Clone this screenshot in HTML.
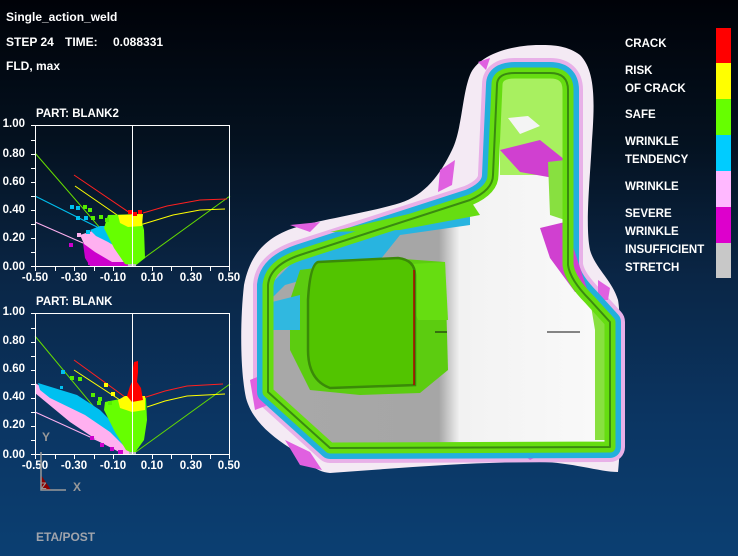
<!DOCTYPE html>
<html><head><meta charset="utf-8"><style>
html,body{margin:0;padding:0}
body{width:738px;height:556px;overflow:hidden;background:linear-gradient(180deg,#000208 0%,#04111f 25%,#0a2646 50%,#0b3562 75%,#0b3f72 100%);font-family:"Liberation Sans",sans-serif;}
svg{position:absolute;left:0;top:0}
text{font-family:"Liberation Sans",sans-serif;font-weight:bold;}
</style></head><body>
<svg width="738" height="556" viewBox="0 0 738 556">
<defs>
<linearGradient id="fill" x1="268" y1="0" x2="610" y2="0" gradientUnits="userSpaceOnUse">
<stop offset="0" stop-color="#a8a8a8"/><stop offset="0.5" stop-color="#a6a6a6"/><stop offset="0.56" stop-color="#f2f2f2"/><stop offset="1" stop-color="#fafafa"/>
</linearGradient>
</defs>
<g fill="#fff" font-size="12">
<text x="6" y="21">Single_action_weld</text>
<text x="6" y="46">STEP 24</text><text x="65" y="46">TIME:</text><text x="113" y="46">0.088331</text>
<text x="6" y="70">FLD, max</text>
</g>
<g fill="#fff" font-size="11.5">
<text x="625" y="47">CRACK</text>
<text x="625" y="74">RISK</text><text x="625" y="92">OF CRACK</text>
<text x="625" y="118">SAFE</text>
<text x="625" y="145">WRINKLE</text><text x="625" y="163">TENDENCY</text>
<text x="625" y="190">WRINKLE</text>
<text x="625" y="217">SEVERE</text><text x="625" y="235">WRINKLE</text>
<text x="625" y="253">INSUFFICIENT</text><text x="625" y="271">STRETCH</text>
</g>
<rect x="716" y="28" width="15" height="36" fill="#ff0000"/>
<rect x="716" y="63" width="15" height="36" fill="#ffff00"/>
<rect x="716" y="99" width="15" height="36" fill="#66ff00"/>
<rect x="716" y="135" width="15" height="36" fill="#00ccff"/>
<rect x="716" y="171" width="15" height="36" fill="#ffb8ff"/>
<rect x="716" y="207" width="15" height="36" fill="#dd00cc"/>
<rect x="716" y="243" width="15" height="35" fill="#c8c8c8"/>

<!-- part -->
<path d="M540,45 C510,45 478,55 470,75 C462,95 462,130 452,150 C440,175 425,195 400,203 C370,212 330,218 300,226 C265,236 250,255 244,285 C240,320 240,370 246,398 C252,420 270,435 290,448 C305,460 315,472 330,473 C400,468 470,462 540,462 C570,462 600,472 618,472 C622,440 622,320 618,300 C612,280 595,268 590,250 C585,225 590,180 592,140 C595,100 595,70 580,55 C568,46 555,45 540,45 Z" fill="#f4eaf4"/>
<path d="M497,85 Q497,73 515,73 L550,73 Q568,73 568,90 L568,265 Q570,280 590,300 L610,322 L610,447 L330,448 L268,392 L268,285 Q270,265 300,255 L470,200 Q493,190 493,175 Z" fill="none" stroke="#e8b0e8" stroke-width="30" stroke-linejoin="round"/>
<g fill="#e060e0">
<path d="M440,170 L455,160 L452,185 L438,192Z"/><path d="M250,380 L262,375 L268,405 L255,410Z"/>
<path d="M285,440 L310,452 L322,470 L300,465Z"/><path d="M520,452 L540,455 L530,460Z"/>
<path d="M598,280 L610,288 L608,300 L598,300Z"/><path d="M290,225 L320,222 L310,232Z"/>
<path d="M478,62 L490,58 L486,70Z"/>
</g>
<path d="M497,85 Q497,73 515,73 L550,73 Q568,73 568,90 L568,265 Q570,280 590,300 L610,322 L610,447 L330,448 L268,392 L268,285 Q270,265 300,255 L470,200 Q493,190 493,175 Z" fill="none" stroke="#22b0dc" stroke-width="22" stroke-linejoin="round"/>
<path d="M497,85 Q497,73 515,73 L550,73 Q568,73 568,90 L568,265 Q570,280 590,300 L610,322 L610,447 L330,448 L268,392 L268,285 Q270,265 300,255 L470,200 Q493,190 493,175 Z" fill="url(#fill)"/>
<path d="M500,86 Q500,76 515,76 L550,76 Q565,76 565,90 L565,175 L500,175Z" fill="#a8f060"/>
<path d="M508,118 L528,116 L540,126 L520,134Z" fill="#f4f4f4"/>
<path d="M500,150 L540,140 L565,160 L565,180 L520,172Z" fill="#d040d0"/>
<path d="M548,162 L565,160 L565,220 L550,215Z" fill="#88e040"/>
<path d="M540,228 L565,222 L588,292 L575,292 L550,258Z" fill="#d040d0"/>
<path d="M300,255 L470,200 L470,225 L400,235 L380,260 L320,275 L285,285 L270,300 L270,285 Z" fill="#28b4e0"/>
<path d="M330,232 L470,200 L480,215 L400,230Z" fill="#66dd11"/>
<path d="M300,270 L390,258 L445,262 L448,370 L420,393 L360,395 L310,390 L290,350 L290,300Z" fill="#5ccc10"/>
<path d="M395,265 L445,262 L448,320 L418,320Z" fill="#66dd11"/>
<path d="M318,262 L398,258 Q415,260 415,275 L415,385 L330,388 Q308,380 308,350 L308,300 Q310,265 318,262Z" fill="#52c400" stroke="#3a8a08" stroke-width="2.5"/>
<line x1="414" y1="270" x2="414" y2="385" stroke="#b00000" stroke-width="1.5"/>
<path d="M272,302 L300,295 L300,330 L272,330Z" fill="#30b8e0"/>
<path d="M590,300 L605,318 L605,440 L595,440 L595,330Z" fill="#88e040"/>
<path d="M497,85 Q497,73 515,73 L550,73 Q568,73 568,90 L568,265 Q570,280 590,300 L610,322 L610,447 L330,448 L268,392 L268,285 Q270,265 300,255 L470,200 Q493,190 493,175 Z" fill="none" stroke="#66dd11" stroke-width="11" stroke-linejoin="round"/>
<path d="M497,85 Q497,73 515,73 L550,73 Q568,73 568,90 L568,265 Q570,280 590,300 L610,322 L610,447 L330,448 L268,392 L268,285 Q270,265 300,255 L470,200 Q493,190 493,175 Z" fill="none" stroke="#3a8a10" stroke-width="2" stroke-linejoin="round"/>
<line x1="435" y1="332" x2="447" y2="332" stroke="#111" stroke-width="1"/>
<line x1="547" y1="332" x2="580" y2="332" stroke="#111" stroke-width="1"/>

<!-- axes -->
<g stroke="#fff" stroke-width="1">
<path d="M31,266.5h4M31,252.5h4M31,238.5h4M31,224.5h4M31,210.5h4M31,196.5h4M31,182.5h4M31,168.5h4M31,154.5h4M31,140.5h4M31,125.5h4"/>
<path d="M35.5,266v5M55.5,266v5M74.5,266v5M94.5,266v5M113.5,266v5M152.5,266v5M171.5,266v5M191.5,266v5M210.5,266v5M229.5,266v5"/>
<path d="M31,454.5h4M31,440.5h4M31,426.5h4M31,412.5h4M31,398.5h4M31,384.5h4M31,370.5h4M31,356.5h4M31,342.5h4M31,328.5h4M31,313.5h4"/>
<path d="M35.5,454v5M55.5,454v5M74.5,454v5M94.5,454v5M113.5,454v5M152.5,454v5M171.5,454v5M191.5,454v5M210.5,454v5M229.5,454v5"/>
</g>
<g fill="#fff" font-size="11.5">
<text x="36" y="117">PART: BLANK2</text>
<text x="36" y="305">PART: BLANK</text>
<g text-anchor="end">
<text x="25" y="127">1.00</text><text x="25" y="157">0.80</text><text x="25" y="185">0.60</text><text x="25" y="213">0.40</text><text x="25" y="241">0.20</text><text x="25" y="270">0.00</text>
<text x="25" y="315">1.00</text><text x="25" y="344">0.80</text><text x="25" y="372">0.60</text><text x="25" y="400">0.40</text><text x="25" y="428">0.20</text><text x="25" y="458">0.00</text>
</g>
<g text-anchor="middle">
<text x="35" y="281">-0.50</text><text x="74" y="281">-0.30</text><text x="113" y="281">-0.10</text><text x="152" y="281">0.10</text><text x="191" y="281">0.30</text><text x="229" y="281">0.50</text>
<text x="35" y="469">-0.50</text><text x="74" y="469">-0.30</text><text x="113" y="469">-0.10</text><text x="152" y="469">0.10</text><text x="191" y="469">0.30</text><text x="229" y="469">0.50</text>
</g>
</g>
<!-- plot1 -->
<g>
<g fill="none" stroke-width="1">
<polyline points="35,153 133,266 230,196" stroke="#66dd00"/>
<polyline points="74,175 133,215" stroke="#ff2020"/>
<polyline points="143,213 167,206 200,200 227,199" stroke="#ff2020"/>
<polyline points="75,186 120,217" stroke="#ffff00"/>
<polyline points="140,225 173,215 200,210 225,209" stroke="#ffff00"/>
<polyline points="35,196 103,230" stroke="#00c0f0"/>
<polyline points="35,222 83,243" stroke="#ffb0f0"/>
</g>
<path d="M83,243 L100,240 L118,245 L128,256 L133,266 L90,266 L85,258Z" fill="#cc00cc"/>
<path d="M80,235 L95,230 L112,236 L122,250 L128,262 L112,262 L95,252 L84,244Z" fill="#ffb0f0"/>
<path d="M90,230 L100,226 L108,226 L114,238 L118,248 L108,242 L96,236Z" fill="#00c0f0"/>
<path d="M108,215 L140,214 L144,230 L145,258 L135,266 L125,264 L114,248 L104,228Z" fill="#66ff00"/>
<path d="M118,215 L143,214 L142,226 L128,227 L120,223Z" fill="#ffff00"/>
<path d="M128,210h4v4h-4zM133,212h4v4h-4zM138,210h4v4h-4z" fill="#ff0000"/>
<path d="M83,205h4v4h-4zM88,208h4v4h-4zM91,216h4v4h-4zM99,215h4v4h-4zM105,218h4v4h-4z" fill="#55ee00"/>
<path d="M70,205h4v4h-4zM76,206h4v4h-4zM76,216h4v4h-4zM84,216h4v4h-4zM86,230h4v4h-4z" fill="#00c0f0"/>
<path d="M69,243h4v4h-4zM88,261h4v4h-4z" fill="#cc00cc"/><path d="M77,233h4v4h-4z" fill="#ffb0f0"/>
<rect x="128" y="264" width="8" height="2" fill="#bbb"/>
</g>
<!-- plot2 -->
<g>
<g fill="none" stroke-width="1">
<polyline points="35,336 133,454 230,384" stroke="#66dd00"/>
<polyline points="74,360 125,397" stroke="#ff2020"/>
<polyline points="143,398 165,391 187,386 223,384" stroke="#ff2020"/>
<polyline points="74,370 120,400" stroke="#ffff00"/>
<polyline points="147,407 165,401 187,396 225,394" stroke="#ffff00"/>
<polyline points="35,412 123,452" stroke="#ffb0f0"/>
</g>
<path d="M35,383 L47,390 L80,405 L105,425 L125,445 L133,454 L123,454 L100,442 L70,422 L35,393Z" fill="#ffb0f0"/>
<path d="M38,383 L77,395 L100,410 L115,425 L125,440 L128,450 L110,432 L85,415 L50,398 L40,390Z" fill="#00c0f0"/>
<path d="M90,436h4v4h-4zM100,443h4v4h-4zM110,447h4v4h-4zM118,450h5v4h-5z" fill="#cc00cc"/>
<path d="M105,402 L125,398 L146,398 L147,420 L144,440 L134,454 L126,450 L115,432 L104,410Z" fill="#66ff00"/>
<path d="M118,400 L125,396 L145,396 L145,410 L132,412 L120,408Z" fill="#ffff00"/>
<path d="M127,396 L130,386 L133,380 L133,368 L134,362 L138,361 L138,372 L137,382 L141,388 L143,400 L132,402Z" fill="#ff0000"/>
<path d="M104,383h4v4h-4zM111,392h4v4h-4z" fill="#ffff00"/>
<path d="M70,376h4v4h-4zM78,377h4v4h-4zM91,393h4v4h-4zM97,401h4v4h-4zM98,397h4v4h-4zM108,401h4v4h-4z" fill="#55ee00"/>
<path d="M61,370h4v4h-4zM60,386h3v3h-3z" fill="#00c0f0"/>
<rect x="129" y="452" width="7" height="3" fill="#bbb"/>
</g>
<g fill="none" stroke="#fff" stroke-width="1">
<rect x="35.5" y="125.5" width="194" height="141"/><line x1="132.5" y1="125" x2="132.5" y2="266"/>
<rect x="35.5" y="313.5" width="194" height="141"/><line x1="132.5" y1="313" x2="132.5" y2="454"/>
</g>
<path d="M41,475 L41,490 L51,490Z" fill="#8b0000"/>
<g stroke="#999" stroke-width="1.5" fill="none"><path d="M41,452V490H66"/></g>
<g fill="#999" font-size="12"><text x="42" y="441">Y</text><text x="73" y="491">X</text><text x="41" y="489" font-size="9">Z</text></g>
<text x="36" y="541" fill="#a0a4ac" font-size="12">ETA/POST</text>
</svg>
</body></html>
